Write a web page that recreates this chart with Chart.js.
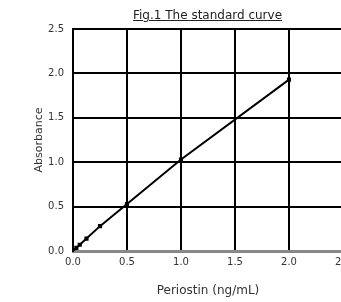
<!DOCTYPE html>
<html>
<head>
<meta charset="utf-8">
<script src="https://cdn.jsdelivr.net/npm/chart.js@4/dist/chart.umd.min.js"></script>
<style>
  body { margin: 0; background: #fff; overflow: hidden; width: 341px; height: 302px; position: relative; }
  #wrap { position: absolute; left: 0; top: 0; width: 390px; height: 302px; }
  #title { position: absolute; left: 133px; top: 8px; font: 12px "DejaVu Sans", sans-serif; color: #222; text-decoration: underline; white-space: nowrap; }
</style>
</head>
<body>
<div id="wrap"><canvas id="curve"></canvas></div>
<div id="title">Fig.1 The standard curve</div>
<script>
// periostin concentration (ng/mL) and measured absorbance
const concentrations = [0, 0.031, 0.0625, 0.125, 0.25, 0.5, 1.0, 2.0];
const absorbance = [0.0, 0.035, 0.07, 0.14, 0.28, 0.53, 1.03, 1.93];
const xTicks = [0, 0.5, 1.0, 1.5, 2.0, 2.5];
const yTicks = [0, 0.5, 1.0, 1.5, 2.0, 2.5];

const fam = "'DejaVu Sans', sans-serif";
const tickFont = { family: fam, size: 10 };

const points = concentrations.map((c, i) => ({ x: c, y: absorbance[i] }));

new Chart(document.getElementById("curve"), {
    type: 'line',
    data: {
        datasets: [{
            data: points,
            borderColor: '#000',
            backgroundColor: '#000',
            borderWidth: 2,
            pointRadius: 1.5,
            pointStyle: 'rect',
            tension: 0
        }]
    },
    options: {
        responsive: true,
        maintainAspectRatio: false,
        animation: false,
        layout: { padding: { left: 29, top: 29, right: 47, bottom: 0 } },
        plugins: { legend: { display: false }, tooltip: { enabled: false } },
        scales: {
            x: {
                type: 'linear',
                min: 0,
                max: 2.5,
                afterBuildTicks: s => { s.ticks = xTicks.map(v => ({ value: v })); },
                afterFit: s => { s.height = 51; },
                grid: { color: '#000', lineWidth: 2, drawTicks: false },
                border: { color: '#888', width: 3 },
                ticks: { color: '#333', font: tickFont, padding: 5, callback: v => v.toFixed(1) },
                title: { display: true, text: 'Periostin (ng/mL)', color: '#333', font: { family: fam, size: 12 }, padding: { top: 8 } }
            },
            y: {
                min: 0,
                max: 2.5,
                afterBuildTicks: s => { s.ticks = yTicks.map(v => ({ value: v })); },
                afterFit: s => { s.width = 44; },
                grid: { color: '#000', lineWidth: 2, drawTicks: false },
                border: { color: '#000', width: 2 },
                ticks: { color: '#333', font: tickFont, padding: 9, callback: v => v.toFixed(1) },
                title: { display: true, text: 'Absorbance', color: '#333', font: { family: fam, size: 11 }, padding: { bottom: 3 } }
            }
        }
    }
});
</script>
</body>
</html>
